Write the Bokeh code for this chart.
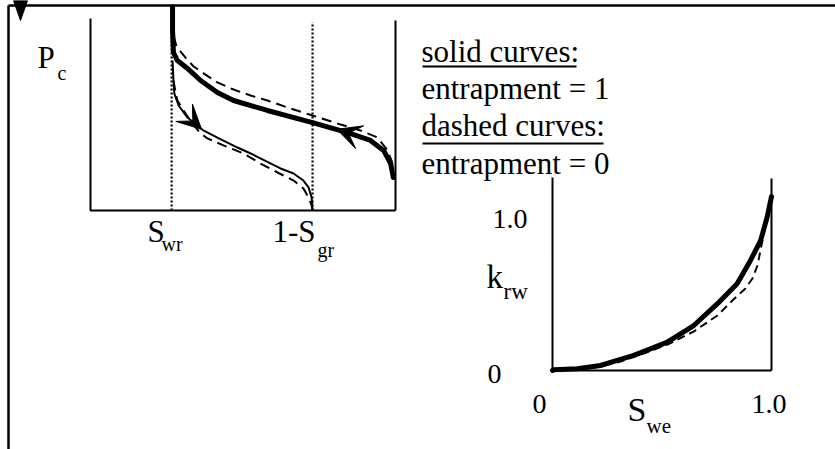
from bokeh.plotting import figure
from bokeh.models import Range1d, Arrow, VeeHead
from bokeh.core.properties import value
from bokeh.embed import file_html
from bokeh.resources import INLINE

# ------------------------------------------------------------------ data
# capillary-pressure panel (S_w in 0..1, Pc normalised 0..1)
S_WR = 0.266
ONE_MINUS_S_GR = 0.728

drain_e1_sw = [0.993, 0.984, 0.961, 0.918, 0.843, 0.728, 0.580, 0.469, 0.416, 0.361, 0.318, 0.285, 0.272, 0.269, 0.269]
drain_e1_pc = [0.172, 0.245, 0.313, 0.365, 0.406, 0.458, 0.521, 0.573, 0.615, 0.677, 0.740, 0.781, 0.823, 0.938, 1.060]

drain_e0_sw = [0.269, 0.275, 0.282, 0.311, 0.338, 0.377, 0.416, 0.469, 0.525, 0.580, 0.656, 0.728, 0.820, 0.885, 0.941, 0.974, 0.987, 0.993]
drain_e0_pc = [0.990, 0.896, 0.854, 0.797, 0.750, 0.708, 0.667, 0.630, 0.599, 0.573, 0.531, 0.495, 0.448, 0.417, 0.380, 0.313, 0.260, 0.219]

imb_e1_sw = [0.269, 0.272, 0.275, 0.289, 0.318, 0.351, 0.370, 0.416, 0.482, 0.525, 0.557, 0.590, 0.623, 0.666, 0.698, 0.715, 0.725, 0.728]
imb_e1_pc = [0.781, 0.677, 0.609, 0.547, 0.484, 0.443, 0.417, 0.380, 0.328, 0.297, 0.271, 0.245, 0.219, 0.193, 0.156, 0.120, 0.068, 0.000]

imb_e0_sw = [0.272, 0.279, 0.285, 0.305, 0.334, 0.361, 0.384, 0.436, 0.502, 0.557, 0.613, 0.666, 0.698, 0.715, 0.725, 0.728]
imb_e0_pc = [0.677, 0.615, 0.573, 0.521, 0.453, 0.401, 0.375, 0.339, 0.297, 0.245, 0.198, 0.156, 0.115, 0.068, 0.026, 0.000]

# arrow heads on the Pc curves: (start, end) in data units
imb_arrow = [0.300, 0.520, 0.364, 0.423]
drain_arrow = [0.880, 0.383, 0.808, 0.423]

# relative-permeability panel
krw_e1_se = [0.000, 0.006, 0.113, 0.219, 0.295, 0.371, 0.447, 0.524, 0.645, 0.752, 0.843, 0.904, 0.950, 0.980, 1.000]
krw_e1_k = [0.000, 0.004, 0.010, 0.029, 0.058, 0.087, 0.125, 0.164, 0.260, 0.385, 0.501, 0.636, 0.751, 0.886, 1.005]

krw_e0_se = [0.000, 0.114, 0.219, 0.311, 0.402, 0.525, 0.644, 0.753, 0.826, 0.881, 0.913, 0.936, 0.954, 0.973, 0.991, 1.000]
krw_e0_k = [0.000, 0.009, 0.023, 0.052, 0.092, 0.150, 0.225, 0.318, 0.410, 0.474, 0.532, 0.607, 0.723, 0.838, 0.954, 1.005]

legend_lines = ["solid curves:", "entrapment = 1", "dashed curves:", "entrapment = 0"]
krw_ticks = ["0", "1.0"]

# ------------------------------------------------------------------ figure
W, H = 835, 449
X0, Y0 = 0, 0          # page offset of the canvas
FONT = value("Liberation Serif")
BASE_SHIFT = 0.4       # empirical baseline correction (fraction of font size)

p = figure(width=W, height=H, output_backend="svg", toolbar_location=None,
           x_range=Range1d(X0, X0 + W), y_range=Range1d(Y0 + H, Y0),
           x_axis_type=None, y_axis_type=None, min_border=0,
           outline_line_color=None, background_fill_color="white",
           border_fill_color="white")
p.grid.visible = False


def xr(px0, px1, v0, v1):
    a = (v1 - v0) / (px1 - px0)
    return Range1d(v0 + (X0 - px0) * a, v0 + (X0 + W - px0) * a)


def yr(py0, py1, v0, v1):
    a = (v1 - v0) / (py1 - py0)
    return Range1d(v0 + (Y0 + H - py0) * a, v0 + (Y0 - py0) * a)


# Pc panel: S=0 at x=90, S=1 at x=395 ; Pc=0 at y=210, Pc=1 at y=18
# krw panel: S=0 at x=552, S=1 at x=771 ; k=0 at y=370, k=1 at y=197
p.extra_x_ranges = {"pcx": xr(90, 395, 0.0, 1.0), "kx": xr(552, 771, 0.0, 1.0)}
p.extra_y_ranges = {"pcy": yr(210, 18, 0.0, 1.0), "ky": yr(370, 197, 0.0, 1.0)}
PC = dict(x_range_name="pcx", y_range_name="pcy")
KR = dict(x_range_name="kx", y_range_name="ky")

# outer frame (page pixels)
p.line([8, 835], [5, 5], line_color="black", line_width=2.5)
p.line([8, 8], [5, 449], line_color="black", line_width=2.5)
p.patch([13, 27, 20], [0, 0, 20], fill_color="black", line_color="black")

# ---- Pc panel
p.line([0, 0, 1.0], [1.0, 0, 0], line_color="black", line_width=2, **PC)
p.line([1.0, 1.0], [0, 0.99], line_color="black", line_width=2, **PC)
p.line([S_WR, S_WR], [0, 1.05], line_color="black", line_width=2.2, line_dash="2 2", **PC)
p.line([ONE_MINUS_S_GR, ONE_MINUS_S_GR], [0, 0.98], line_color="black", line_width=2.2,
       line_dash="2 2", **PC)

p.line(drain_e0_sw, drain_e0_pc, line_color="black", line_width=2, line_dash="10 6", **PC)
p.line(imb_e0_sw, imb_e0_pc, line_color="black", line_width=2, line_dash="10 6", **PC)
p.line(imb_e1_sw, imb_e1_pc, line_color="black", line_width=2, line_join="round", **PC)
p.line(drain_e1_sw, drain_e1_pc, line_color="black", line_width=5, line_join="round",
       line_cap="round", **PC)

for a in (imb_arrow, drain_arrow):
    p.add_layout(Arrow(end=VeeHead(size=24, fill_color="black", line_color="black"),
                       x_start=a[0], y_start=a[1], x_end=a[2], y_end=a[3],
                       line_alpha=0, **PC))

# ---- krw panel
p.line([0, 0], [0, 1.116], line_color="black", line_width=2, **KR)
p.line([1, 1], [0, 1.11], line_color="black", line_width=2, **KR)
p.line([0, 1], [0, 0], line_color="black", line_width=2, **KR)
p.line(krw_e0_se, krw_e0_k, line_color="black", line_width=2, line_dash="8 5", **KR)
p.line(krw_e1_se, krw_e1_k, line_color="black", line_width=5, line_join="round",
       line_cap="round", **KR)

# ---- texts (page pixels, wanted baselines)
tx = [37, 57, 147, 161, 272, 317,
      486, 503, 487, 492, 532, 751, 627, 646]
ty = [69, 80, 243, 251, 243, 257,
      290, 300, 385, 230, 415, 415, 423, 434]
tt = ["P", "c", "S", "wr", "1-S", "gr",
      "k", "rw", krw_ticks[0], krw_ticks[1], krw_ticks[0], krw_ticks[1], "S", "we"]
tsz = [31, 20, 31, 20, 31, 20,
       33, 23, 28, 28, 28, 28, 34, 21]
p.text(x=tx, y=[y - BASE_SHIFT * s for y, s in zip(ty, tsz)], text=tt,
       text_font_size=[f"{s}px" for s in tsz], text_font=FONT,
       text_baseline="alphabetic", text_align="left", text_color="black")

LEG = 31
p.text(x=[421] * 4, y=[y - BASE_SHIFT * LEG for y in (63, 100, 137, 175)],
       text=legend_lines, text_font_size=f"{LEG}px",
       text_font=FONT, text_baseline="alphabetic", text_align="left", text_color="black")
p.segment(x0=[422, 422], y0=[66, 143], x1=[576, 603], y1=[66, 143],
          line_color="black", line_width=2)

open("out.html", "w").write(file_html(p, INLINE))
